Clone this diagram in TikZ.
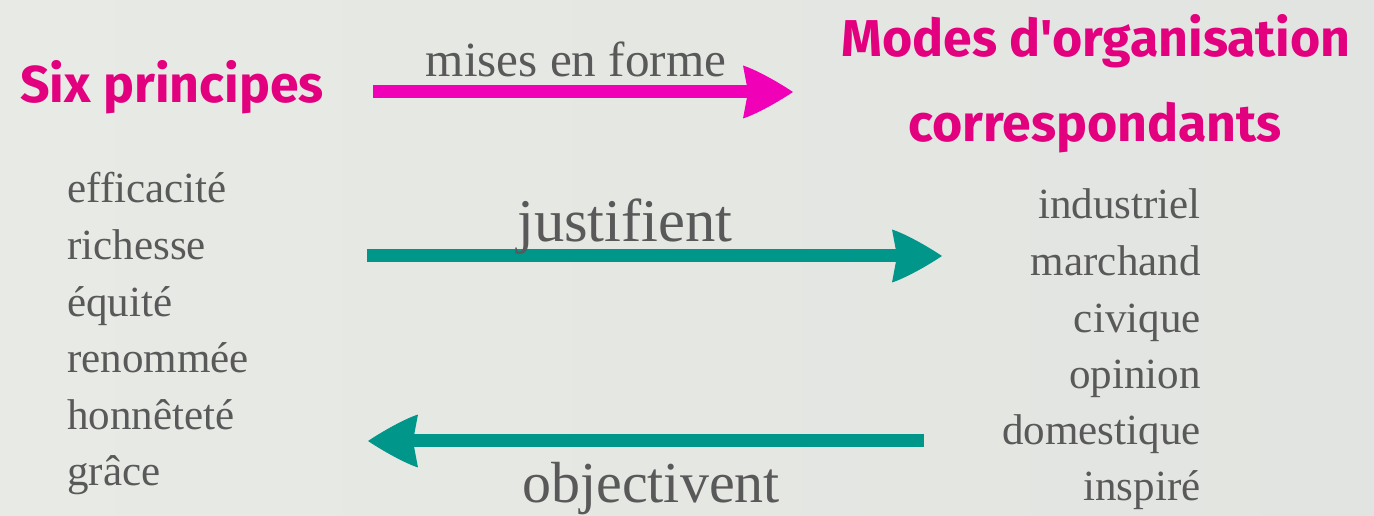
\documentclass[tikz,border=0pt]{standalone}
\usepackage{fontspec}
\setmainfont{Liberation Serif}
\newfontfamily\headfont{Fira Sans}[UprightFont=* Bold]
\usetikzlibrary{arrows.meta}
\newdimen\myarrtmp
\pgfdeclarearrow{
  name = CurvyHead,
  parameters = {\the\pgfarrowlength,\the\pgfarrowwidth,\the\pgfarrowinset},
  setup code = {
    \pgfarrowssettipend{0pt}
    \myarrtmp=\pgfarrowinset
    \advance\myarrtmp by -\pgfarrowlength
    \pgfarrowssetlineend{\myarrtmp}
    \pgfarrowssetbackend{-\pgfarrowlength}
    \pgfarrowssetvisualbackend{-\pgfarrowlength}
    \pgfarrowshullpoint{0pt}{0pt}
    \pgfarrowsupperhullpoint{-\pgfarrowlength}{.5\pgfarrowwidth}
    \pgfarrowssavethe\pgfarrowlength
    \pgfarrowssavethe\pgfarrowwidth
    \pgfarrowssavethe\pgfarrowinset
  },
  drawing code = {
    \myarrtmp=\pgfarrowinset
    \advance\myarrtmp by -\pgfarrowlength
    \pgfpathmoveto{\pgfqpoint{0pt}{0pt}}
    \pgfpathcurveto{\pgfqpoint{-.4\pgfarrowlength}{.25\pgfarrowwidth}}{\pgfqpoint{-.8\pgfarrowlength}{.44\pgfarrowwidth}}{\pgfqpoint{-\pgfarrowlength}{.5\pgfarrowwidth}}
    \pgfpathlineto{\pgfqpoint{\myarrtmp}{0pt}}
    \pgfpathlineto{\pgfqpoint{-\pgfarrowlength}{-.5\pgfarrowwidth}}
    \pgfpathcurveto{\pgfqpoint{-.8\pgfarrowlength}{-.44\pgfarrowwidth}}{\pgfqpoint{-.4\pgfarrowlength}{-.25\pgfarrowwidth}}{\pgfqpoint{0pt}{0pt}}
    \pgfpathclose
    \pgfusepathqfill
  },
  defaults = {length=1cm, width=1cm, inset=0.1cm}
}
\definecolor{bgL}{HTML}{E8EAE5}
\definecolor{bgR}{HTML}{E2E4E1}
\definecolor{headpink}{HTML}{E2007F}
\definecolor{arrpink}{HTML}{F000B6}
\definecolor{teal}{HTML}{00968A}
\definecolor{txtgray}{HTML}{595959}
\tikzset{
  head/.style={text=headpink, inner sep=0pt, font=\headfont\fontsize{29.5}{36}\selectfont},
  listitem/.style={text=txtgray, inner sep=0pt, font=\fontsize{24.5}{29}\selectfont},
  verb/.style={text=txtgray, inner sep=0pt},
  bigarrow/.style={line width=0.26cm, -{CurvyHead[length=1.0cm, width=1.06cm, inset=0.1cm]}},
}
\begin{document}
\begin{tikzpicture}[x=0.02cm, y=-0.02cm]
\fill[left color=bgL, right color=bgR] (0,0) rectangle (1374,516);
\useasboundingbox (0,0) rectangle (1374,516);

% headings
\node[head, anchor=base west] (six) at (20,103) {Six principes};
\node[head, anchor=base] (modes1) at (1096,57) {Modes d'organisation};
\node[head, anchor=base] (modes2) at (1095,142) {correspondants};

% arrow coordinates
\coordinate (m1) at (373,92);
\coordinate (m2) at (793,92);
\coordinate (j1) at (367,256);
\coordinate (j2) at (942,256);
\coordinate (o1) at (924,441);
\coordinate (o2) at (368,441);

\draw[bigarrow, arrpink] (m1) -- (m2);
\draw[bigarrow, teal] (j1) -- (j2);
\draw[bigarrow, teal] (o1) -- (o2);

% arrow labels
\node[verb, anchor=base, font=\fontsize{28}{32}\selectfont] (lmises) at (576,77) {mises en forme};
\node[verb, anchor=base, font=\fontsize{34.5}{40}\selectfont] (ljust) at (625,242) {justifient};
\node[verb, anchor=base, font=\fontsize{33}{38}\selectfont] (lobj) at (651,503) {objectivent};

% left list
\node[listitem, anchor=base west] (p1) at (67,203) {efficacité};
\node[listitem, anchor=base west] (p2) at (67,260) {richesse};
\node[listitem, anchor=base west] (p3) at (67,317) {équité};
\node[listitem, anchor=base west] (p4) at (67,373) {renommée};
\node[listitem, anchor=base west] (p5) at (67,430) {honnêteté};
\node[listitem, anchor=base west] (p6) at (67,486) {grâce};

% right list
\node[listitem, anchor=base east] (r1) at (1201,219) {industriel};
\node[listitem, anchor=base east] (r2) at (1201,276) {marchand};
\node[listitem, anchor=base east] (r3) at (1201,333) {civique};
\node[listitem, anchor=base east] (r4) at (1201,389) {opinion};
\node[listitem, anchor=base east] (r5) at (1201,445) {domestique};
\node[listitem, anchor=base east] (r6) at (1201,501) {inspiré};
\end{tikzpicture}
\end{document}
